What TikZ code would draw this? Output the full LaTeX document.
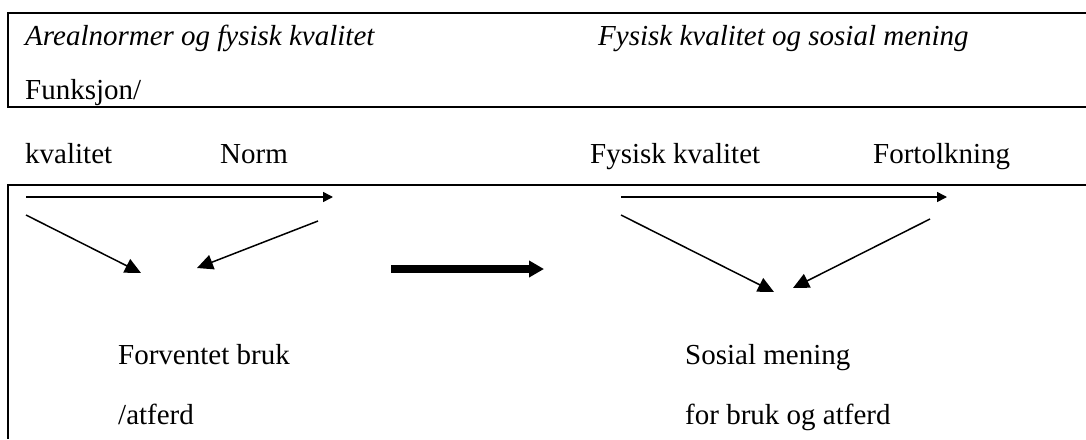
\documentclass[tikz,border=0pt]{standalone}
\usepackage{fontspec}
\setmainfont{Liberation Serif}
\usetikzlibrary{arrows.meta}

\begin{document}
\begin{tikzpicture}[x=1pt, y=-1pt,
  label/.style={anchor=base west, inner sep=0pt, font=\fontsize{29}{34}\selectfont},
  title/.style={label, font=\fontsize{29}{34}\selectfont\itshape},
  frame/.style={line width=2pt},
  thinarrow/.style={line width=1.5pt, -{Triangle[length=10pt, width=10pt]}},
  diagarrow/.style={line width=1.5pt, -{Triangle[length=16pt, width=15pt]}},
  bigarrow/.style={line width=8pt, -{Triangle[length=15pt, width=16pt]}}]

  \useasboundingbox (0,0) rectangle (1086,439);

  % frames
  \draw[frame] (1086,13) -- (8,13) -- (8,107) -- (1086,107);
  \draw[frame] (1086,185) -- (8,185) -- (8,439);

  % headings
  \node[title] (t1) at (25,45) {Arealnormer og fysisk kvalitet};
  \node[title] (t2) at (598,45) {Fysisk kvalitet og sosial mening};
  \node[label] (fn) at (25,99) {Funksjon/};

  % column labels
  \node[label] (kv) at (25,163) {kvalitet};
  \node[label] (nm) at (220,163) {Norm};
  \node[label] (fk) at (590,163) {Fysisk kvalitet};
  \node[label] (ft) at (873,163) {Fortolkning};

  % results
  \node[label] (fb) at (118,364) {Forventet bruk};
  \node[label] (at) at (118,424) {/atferd};
  \node[label] (sm) at (685,364) {Sosial mening};
  \node[label] (bo) at (685,424) {for bruk og atferd};

  % arrow end points, left triangle
  \coordinate (la) at (26,197);
  \coordinate (lb) at (333,197);
  \coordinate (lc) at (26,215);
  \coordinate (ld) at (141,273);
  \coordinate (le) at (318,221);
  \coordinate (lf) at (197,268);
  % arrow end points, right triangle
  \coordinate (ra) at (621,197);
  \coordinate (rb) at (947,197);
  \coordinate (rc) at (621,215);
  \coordinate (rd) at (774,292);
  \coordinate (re) at (930,219);
  \coordinate (rf) at (793,288);
  % transition arrow
  \coordinate (ma) at (391,269);
  \coordinate (mb) at (544,269);

  \draw[thinarrow] (la) -- (lb);
  \draw[diagarrow] (lc) -- (ld);
  \draw[diagarrow] (le) -- (lf);
  \draw[thinarrow] (ra) -- (rb);
  \draw[diagarrow] (rc) -- (rd);
  \draw[diagarrow] (re) -- (rf);
  \draw[bigarrow] (ma) -- (mb);
\end{tikzpicture}
\end{document}
